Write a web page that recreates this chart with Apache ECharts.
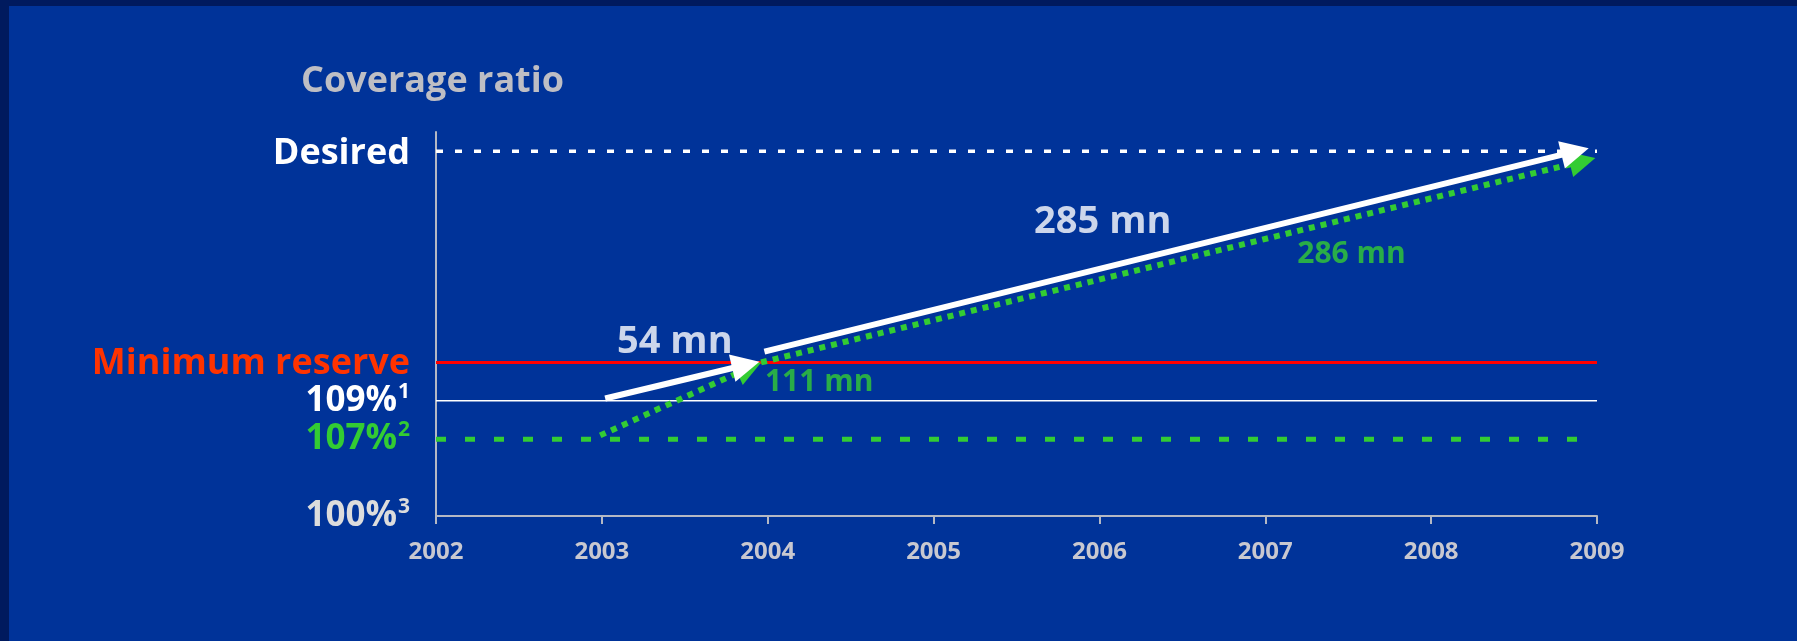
<!DOCTYPE html>
<html>
<head>
<meta charset="utf-8">
<script src="https://cdn.jsdelivr.net/npm/echarts@6/dist/echarts.min.js"></script>
<style>
  html, body { margin: 0; padding: 0; background: #001a5e; }
  #chart { width: 1797px; height: 641px; }
</style>
</head>
<body>
<div id="chart"></div>
<script>
// Years on the horizontal axis
const years = [2002, 2003, 2004, 2005, 2006, 2007, 2008, 2009];

// Reference levels on the (schematic) vertical scale: 0 = 100 %, 100 = top of axis
const levelValues = [0, 20, 30, 40, 95];
const levelNames = ['100%', '107%', '109%', 'Minimum reserve', 'Desired'];
const levelNotes = ['3', '2', '1', '', ''];

// Arrows as [startYear, startLevel, endYear, endLevel]
const whiteArrows = [
  [2003.02, 30.6, 2003.95, 40.2],
  [2003.98, 42.8, 2008.95, 95.8]
];
const greenArrows = [
  [2002.99, 21.0, 2003.96, 40.0],
  [2003.96, 40.0, 2008.99, 93.2]
];
const whiteAmounts = ['54 mn', '285 mn'];
const greenAmounts = ['111 mn', '286 mn'];

const FONT = 'Open Sans';
const GREEN = '#33cc33';
const levelColors = ['#dcdcdc', GREEN, '#ffffff', '#ff3300', '#ffffff'];
const levelSizes = [35, 35, 35, 36, 36];
const levelPads = [[0, 0, 0, 0], [0, 0, 0, 0], [0, 0, 0, 0], [2, 0, 0, 0], [6, 0, 0, 0]];

const rich = {};
levelValues.forEach(function (v, i) {
  rich['l' + i] = { color: levelColors[i], fontSize: levelSizes[i], fontWeight: 'bold', fontFamily: FONT, lineHeight: levelSizes[i] + 4, padding: levelPads[i] };
  rich['l' + i + 's'] = { color: levelColors[i], fontSize: 21, fontWeight: 'bold', fontFamily: FONT, verticalAlign: 'top', lineHeight: 22, padding: [0, 0, 0, 1] };
});

// Straight arrow with a triangular head whose tip sits on the end point
function arrowRenderer(color, dashed, headLen, headWidth) {
  return function (params, api) {
    const p1 = api.coord([api.value(0), api.value(1)]);
    const p2 = api.coord([api.value(2), api.value(3)]);
    const dx = p2[0] - p1[0], dy = p2[1] - p1[1];
    const len = Math.sqrt(dx * dx + dy * dy);
    const ux = dx / len, uy = dy / len;
    const nx = -uy, ny = ux;
    const hw = headWidth / 2;
    const bx = p2[0] - ux * headLen, by = p2[1] - uy * headLen;
    const ex = p2[0] - ux * headLen * 0.6, ey = p2[1] - uy * headLen * 0.6;
    return {
      type: 'group',
      children: [
        {
          type: 'line',
          shape: { x1: p1[0], y1: p1[1], x2: ex, y2: ey },
          style: { stroke: color, lineWidth: 6, lineDash: dashed ? [6, 6] : null, lineCap: 'butt' }
        },
        {
          type: 'polygon',
          shape: { points: [[p2[0], p2[1]], [bx + nx * hw, by + ny * hw], [bx - nx * hw, by - ny * hw]] },
          style: { fill: color }
        }
      ]
    };
  };
}

function hLine(level, fromYear, toYear, color, width, dash, z) {
  return {
    type: 'line',
    data: [[fromYear, level], [toYear, level]],
    symbol: 'none',
    silent: true,
    z: z,
    lineStyle: { color: color, width: width, type: dash || 'solid', cap: 'butt' }
  };
}

function amountLabels(anchors, texts, color, size) {
  return {
    type: 'scatter',
    symbolSize: 1,
    itemStyle: { color: 'transparent' },
    silent: true,
    z: 10,
    data: anchors.map(function (a, i) { return { value: a, name: texts[i] }; }),
    label: {
      show: true,
      position: 'inside',
      formatter: '{b}',
      color: color,
      fontSize: size,
      fontWeight: 'bold',
      fontFamily: FONT
    }
  };
}

const chart = echarts.init(document.getElementById('chart'));
chart.setOption({
  backgroundColor: '#001a5e',
  animation: false,
  graphic: [{
    type: 'rect',
    left: 9, top: 6,
    shape: { width: 1788, height: 635 },
    style: { fill: '#003399' },
    z: -10,
    silent: true
  }],
  title: {
    text: 'Coverage ratio',
    left: 296,
    top: 59,
    textStyle: { color: '#bebec4', fontSize: 36, fontWeight: 'bold', fontFamily: FONT }
  },
  grid: { left: 436, right: 200, top: 132, bottom: 125 },
  xAxis: {
    type: 'value',
    min: years[0],
    max: years[years.length - 1],
    interval: 1,
    axisLine: { lineStyle: { color: '#b4b8c4', width: 2 } },
    axisTick: { show: true, length: 8, lineStyle: { color: '#b4b8c4', width: 2 } },
    splitLine: { show: false },
    axisLabel: {
      margin: 24,
      color: '#c8c8d0',
      fontSize: 24,
      fontWeight: 'bold',
      fontFamily: FONT,
      formatter: function (v) { return String(v); }
    }
  },
  yAxis: {
    type: 'value',
    min: 0,
    max: 100,
    axisLine: { show: true, lineStyle: { color: '#b4b8c4', width: 2 } },
    axisTick: { show: false },
    splitLine: { show: false },
    axisLabel: {
      customValues: levelValues,
      margin: 26,
      formatter: function (v) {
        const i = levelValues.indexOf(v);
        if (i < 0) return '';
        return '{l' + i + '|' + levelNames[i] + '}' + (levelNotes[i] ? '{l' + i + 's|' + levelNotes[i] + '}' : '');
      },
      rich: rich
    }
  },
  series: [
    hLine(levelValues[4], years[0], years[7], '#ffffff', 3.5, [7, 12], 3),
    hLine(levelValues[3], years[0], years[7], '#ff0000', 3, null, 3),
    hLine(levelValues[2], years[0], years[7], '#ffffff', 1.6, null, 3),
    hLine(levelValues[1], years[0], 2008.94, GREEN, 5, [10, 19], 3),
    {
      type: 'custom',
      data: greenArrows,
      encode: { x: [0, 2], y: [1, 3] },
      renderItem: arrowRenderer(GREEN, true, 26, 26),
      clip: false,
      silent: true,
      z: 5
    },
    {
      type: 'custom',
      data: whiteArrows,
      encode: { x: [0, 2], y: [1, 3] },
      renderItem: arrowRenderer('#ffffff', false, 28, 28),
      clip: false,
      silent: true,
      z: 6
    },
    amountLabels([[2003.44, 45.3], [2006.02, 76.6]], whiteAmounts, '#ffffff', 38),
    amountLabels([[2004.31, 34.8], [2007.52, 68.2]], greenAmounts, GREEN, 30)
  ]
});
</script>
</body>
</html>
